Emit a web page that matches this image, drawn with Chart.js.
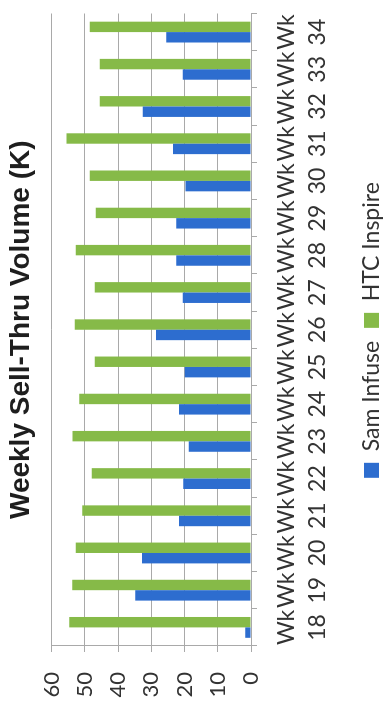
<!DOCTYPE html>
<html>
<head>
<meta charset="utf-8">
<title>Weekly Sell-Thru Volume</title>
<script src="https://cdn.jsdelivr.net/npm/chart.js@4.4.1/dist/chart.umd.min.js"></script>
<style>
    html, body { margin: 0; padding: 0; background: #fff; overflow: hidden; }
    /* the chart is laid on its side, like the scanned page */
    #wrap {
        position: absolute;
        left: 0;
        top: 0;
        width: 710px;
        height: 385px;
        transform-origin: 0 0;
        transform: translateY(710px) rotate(-90deg);
    }
</style>
</head>
<body>
<div id="wrap"><canvas id="myChart" width="710" height="385"></canvas></div>
<script>
const weeks = [18, 19, 20, 21, 22, 23, 24, 25, 26, 27, 28, 29, 30, 31, 32, 33, 34];
const samInfuse = [1.7, 34.8, 32.8, 21.7, 20.4, 18.7, 21.7, 19.9, 28.6, 20.5, 22.5, 22.5, 19.7, 23.5, 32.6, 20.5, 25.5];
const htcInspire = [54.7, 53.8, 52.7, 50.8, 47.9, 53.7, 51.7, 47, 53, 47, 52.7, 46.7, 48.5, 55.5, 45.5, 45.5, 48.5];
const yTicks = [0, 10, 20, 30, 40, 50, 60];

const weekLabels = weeks.map(w => ['Wk', String(w)]);

const gridGray = '#a9a9a9';

// the legend in the scan sits right of the canvas centre
const legendNudge = {
    id: 'legendNudge',
    afterLayout(chart) {
        chart.legend.left += 28;
        chart.legend.right += 28;
    }
};

const config = {
    type: 'bar',
    data: {
        labels: weekLabels,
        datasets: [
            {
                label: 'Sam Infuse',
                data: samInfuse,
                backgroundColor: '#2d6dcf'
            },
            {
                label: 'HTC Inspire',
                data: htcInspire,
                backgroundColor: '#86ba48'
            }
        ]
    },
    options: {
        responsive: false,
        animation: false,
        devicePixelRatio: 1,
        categoryPercentage: 0.56,
        barPercentage: 1.0,
        layout: {
            padding: { left: 0, right: 6, top: 0, bottom: -8 }
        },
        plugins: {
            title: {
                display: true,
                text: 'Weekly Sell-Thru Volume (K)',
                fullSize: false,
                color: '#1e1e1e',
                font: { family: '"Liberation Sans", Arial, sans-serif', size: 28, weight: 'bold' },
                padding: { top: 4, bottom: 14 }
            },
            legend: {
                position: 'bottom',
                labels: {
                    color: '#333',
                    font: { family: 'Lato, sans-serif', size: 23 },
                    boxWidth: 15,
                    boxHeight: 15,
                    padding: 13
                }
            },
            tooltip: { enabled: false }
        },
        scales: {
            x: {
                // keep the week labels and the legend at the spacing of the scan
                afterFit: function(scale) {
                    scale.height = 96;
                },
                grid: {
                    offset: true,
                    drawOnChartArea: false,
                    color: gridGray,
                    tickLength: 6
                },
                border: { color: gridGray },
                ticks: {
                    color: '#333',
                    padding: 14,
                    maxRotation: 0,
                    autoSkip: false,
                    font: { family: 'Lato, sans-serif', size: 23, lineHeight: 1.35 }
                }
            },
            y: {
                min: 0,
                max: 60,
                afterBuildTicks: function(axis) {
                    axis.ticks = yTicks.map(v => ({ value: v }));
                },
                afterFit: function(scale) {
                    scale.width = 64;
                },
                grid: {
                    color: gridGray,
                    tickLength: 6
                },
                border: { color: gridGray },
                ticks: {
                    color: '#333',
                    padding: 20,
                    font: { family: 'Lato, sans-serif', size: 22 }
                }
            }
        }
    },
    plugins: [legendNudge]
};

const myChart = new Chart(document.getElementById('myChart'), config);
</script>
</body>
</html>
